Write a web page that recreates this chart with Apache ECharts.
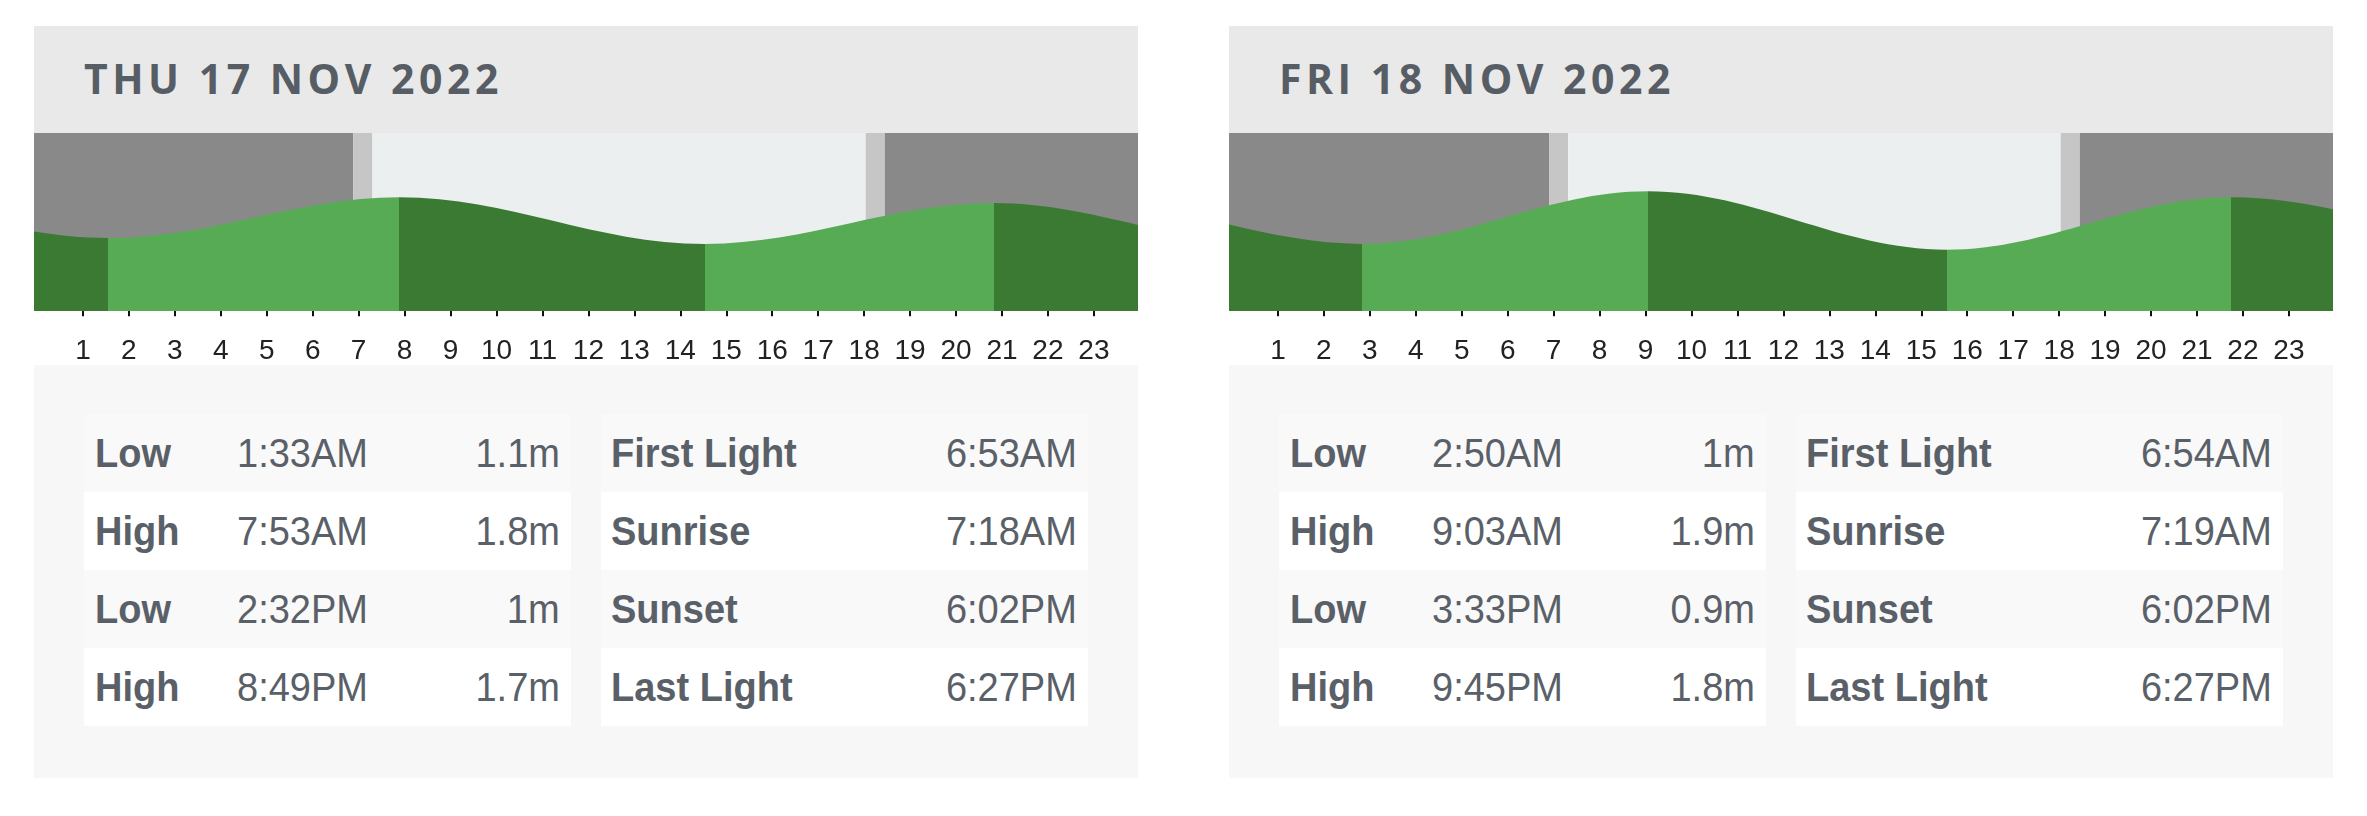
<!DOCTYPE html>
<html>
<head>
<meta charset="utf-8">
<title>Tides</title>
<script src="https://cdn.jsdelivr.net/npm/echarts@6/dist/echarts.min.js"></script>
<style>
    body { margin: 0; background: #fff; width: 2367px; height: 816px; position: relative; overflow: hidden;
        font-family: 'Liberation Sans', Arial, sans-serif; color: #5a6068; }
    .panel { position: absolute; top: 26px; width: 1104px; height: 752px; }
    .head { position: absolute; left: 0; top: 0; width: 100%; height: 107px; background: #e9e9e9; }
    .head span { position: absolute; left: 50px; top: 0; line-height: 104px; font-family: 'Open Sans';
        font-weight: 700; font-size: 41px; letter-spacing: 4.5px; color: #575d65; white-space: nowrap; }
    .chart { position: absolute; left: 0; top: 107px; width: 1104px; height: 232px; }
    .tbl { position: absolute; left: 0; top: 339px; width: 1104px; height: 413px; background: #f7f7f7; }
    .block { position: absolute; top: 49px; width: 487px; }
    .row { position: relative; height: 78px; background: #f9f9f9; }
    .row:nth-child(even) { background: #fff; }
    .row span { position: absolute; top: 0; line-height: 78px; font-size: 40px; white-space: nowrap;
        transform: scaleX(.95); }
    .row .b { font-weight: 700; }
    .row .l { transform-origin: left center; }
    .row .r { right: 11px; transform-origin: right center; }
</style>
</head>
<body>
<div id="panels"></div>
<script>
// ---- data ----
var dayTitles = ['THU 17 NOV 2022', 'FRI 18 NOV 2022'];
var hourTicks = [1, 2, 3, 4, 5, 6, 7, 8, 9, 10, 11, 12, 13, 14, 15, 16, 17, 18, 19, 20, 21, 22, 23];

var thuTideKind = ['Low', 'High', 'Low', 'High'];
var thuTideTime = ['1:33AM', '7:53AM', '2:32PM', '8:49PM'];
var thuTideHeight = [1.1, 1.8, 1, 1.7];
// turning points just outside the day (hours from midnight)
var thuTideBefore = [[-10.5, 1.0], [-4.2, 1.7]];
var thuTideAfter = [[26.83, 1.0], [33.05, 1.9]];

var friTideKind = ['Low', 'High', 'Low', 'High'];
var friTideTime = ['2:50AM', '9:03AM', '3:33PM', '9:45PM'];
var friTideHeight = [1, 1.9, 0.9, 1.8];
var friTideBefore = [[-9.47, 1.0], [-3.18, 1.7]];
var friTideAfter = [[28.05, 1.05], [34.3, 1.85]];

var sunLabels = ['First Light', 'Sunrise', 'Sunset', 'Last Light'];
var thuSunTime = ['6:53AM', '7:18AM', '6:02PM', '6:27PM'];
var friSunTime = ['6:54AM', '7:19AM', '6:02PM', '6:27PM'];

// ---- look ----
var X_MIN = -0.065, X_MAX = 23.96;
var DARK_GREEN = '#3a7a33', LIGHT_GREEN = '#57ab55';
var bandColors = ['#898989', '#c6c6c6', '#eceff0'];

function toHours(s) {
    var m = s.match(/(\d+):(\d+)(AM|PM)/);
    var h = (+m[1]) % 12 + (m[3] == 'PM' ? 12 : 0);
    return h + (+m[2]) / 60;
}

function buildPanel(idx, left, title, kinds, times, heights, sunTimes) {
    var p = document.createElement('div');
    p.className = 'panel';
    p.style.left = left + 'px';
    var html = '<div class="head"><span>' + title + '</span></div>';
    html += '<div class="chart" id="chart' + idx + '"></div>';
    html += '<div class="tbl"><div class="block" style="left:50px">';
    for (var i = 0; i < kinds.length; i++) {
        html += '<div class="row"><span class="l b" style="left:11px">' + kinds[i] + '</span>' +
            '<span class="l" style="left:153px">' + times[i] + '</span>' +
            '<span class="r">' + heights[i] + 'm</span></div>';
    }
    html += '</div><div class="block" style="left:567px">';
    for (var j = 0; j < sunLabels.length; j++) {
        html += '<div class="row"><span class="l b" style="left:10px">' + sunLabels[j] + '</span>' +
            '<span class="r">' + sunTimes[j] + '</span></div>';
    }
    html += '</div></div>';
    p.innerHTML = html;
    document.getElementById('panels').appendChild(p);
}

function buildOption(before, times, heights, after, sunTimes) {
    var pts = before.concat(times.map(function(t, i) { return [toHours(t), heights[i]]; })).concat(after);
    var pieces = [];
    for (var i = 0; i < pts.length - 1; i++) {
        pieces.push({ gte: pts[i][0], lt: pts[i + 1][0], color: pts[i + 1][1] > pts[i][1] ? LIGHT_GREEN : DARK_GREEN });
    }
    var s = sunTimes.map(toHours);
    var bands = [
        [X_MIN, s[0], 0], [s[0], s[1], 1], [s[1], s[2], 2], [s[2], s[3], 1], [s[3], X_MAX, 0]
    ];
    return {
        animation: false,
        grid: { left: 0, right: 0, top: 0, bottom: 51 },
        xAxis: {
            type: 'value', min: X_MIN, max: X_MAX,
            axisLine: { show: false },
            splitLine: { show: false },
            axisTick: { show: true, customValues: hourTicks, length: 14, lineStyle: { color: '#111', width: 2 } },
            axisLabel: { customValues: hourTicks, margin: 26, fontSize: 28, color: '#222',
                fontFamily: 'Liberation Sans' }
        },
        yAxis: { type: 'value', min: -0.15, max: 2.9, show: false },
        visualMap: { show: false, type: 'piecewise', dimension: 0, seriesIndex: 1, pieces: pieces },
        series: [{
            type: 'custom',
            z: 1,
            silent: true,
            data: bands,
            renderItem: function(params, api) {
                var a = api.coord([api.value(0), 0]);
                var b = api.coord([api.value(1), 0]);
                var cs = params.coordSys;
                return {
                    type: 'rect',
                    shape: { x: a[0], y: cs.y, width: b[0] - a[0], height: cs.height },
                    style: { fill: bandColors[api.value(2)] }
                };
            }
        }, {
            type: 'line',
            z: 3,
            data: pts,
            smooth: 0.36,
            smoothMonotone: 'x',
            showSymbol: false,
            symbol: 'none',
            lineStyle: { width: 0 },
            areaStyle: { opacity: 1, origin: 'start' }
        }]
    };
}

buildPanel(0, 34, dayTitles[0], thuTideKind, thuTideTime, thuTideHeight, thuSunTime);
buildPanel(1, 1229, dayTitles[1], friTideKind, friTideTime, friTideHeight, friSunTime);

var chart0 = echarts.init(document.getElementById('chart0'));
chart0.setOption(buildOption(thuTideBefore, thuTideTime, thuTideHeight, thuTideAfter, thuSunTime));
var chart1 = echarts.init(document.getElementById('chart1'));
chart1.setOption(buildOption(friTideBefore, friTideTime, friTideHeight, friTideAfter, friSunTime));
</script>
</body>
</html>
